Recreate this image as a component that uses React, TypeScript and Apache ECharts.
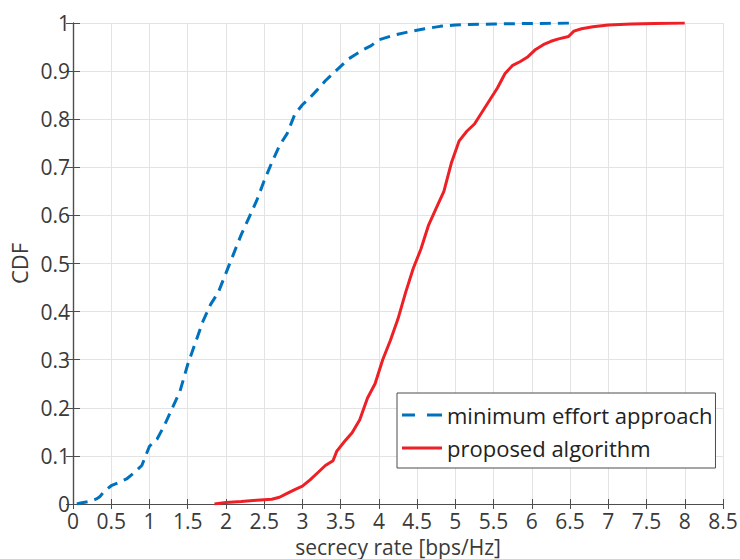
import React, { useEffect, useRef } from "react";
import * as echarts from "echarts";

const xTicks = [0, 0.5, 1, 1.5, 2, 2.5, 3, 3.5, 4, 4.5, 5, 5.5, 6, 6.5, 7, 7.5, 8, 8.5];
const yTicks = [0, 0.1, 0.2, 0.3, 0.4, 0.5, 0.6, 0.7, 0.8, 0.9, 1];

const seriesNames = ["minimum effort approach", "proposed algorithm"];

const minEffortX = [0.05, 0.1, 0.2, 0.3, 0.35, 0.4, 0.5, 0.6, 0.7, 0.8, 0.9, 0.95, 1.0, 1.1, 1.2, 1.3, 1.4, 1.5, 1.6, 1.7, 1.8, 1.9, 2.0, 2.1, 2.2, 2.3, 2.4, 2.5, 2.6, 2.7, 2.8, 2.9, 3.0, 3.1, 3.2, 3.3, 3.4, 3.5, 3.6, 3.7, 3.8, 3.9, 4.0, 4.2, 4.4, 4.6, 4.8, 5.0, 5.5, 6.0, 6.5];
const minEffortY = [0, 0.002, 0.005, 0.01, 0.015, 0.025, 0.038, 0.045, 0.052, 0.065, 0.08, 0.1, 0.12, 0.135, 0.165, 0.2, 0.235, 0.29, 0.335, 0.38, 0.415, 0.44, 0.48, 0.52, 0.56, 0.595, 0.63, 0.672, 0.71, 0.745, 0.77, 0.81, 0.83, 0.845, 0.862, 0.88, 0.895, 0.91, 0.925, 0.935, 0.945, 0.953, 0.965, 0.975, 0.982, 0.988, 0.993, 0.996, 0.998, 0.999, 1.0];

const proposedX = [1.85, 2.0, 2.2, 2.4, 2.6, 2.7, 2.8, 2.9, 3.0, 3.1, 3.2, 3.3, 3.4, 3.45, 3.55, 3.65, 3.75, 3.85, 3.95, 4.05, 4.15, 4.25, 4.35, 4.45, 4.55, 4.65, 4.75, 4.85, 4.95, 5.05, 5.15, 5.25, 5.35, 5.45, 5.55, 5.65, 5.75, 5.85, 5.95, 6.05, 6.15, 6.25, 6.35, 6.48, 6.55, 6.65, 6.8, 7.0, 7.3, 7.6, 8.0];
const proposedY = [0, 0.003, 0.005, 0.008, 0.01, 0.014, 0.022, 0.03, 0.037, 0.05, 0.065, 0.08, 0.09, 0.11, 0.13, 0.148, 0.175, 0.22, 0.25, 0.3, 0.34, 0.385, 0.44, 0.49, 0.53, 0.58, 0.615, 0.65, 0.71, 0.755, 0.775, 0.79, 0.815, 0.84, 0.865, 0.895, 0.912, 0.92, 0.93, 0.945, 0.955, 0.962, 0.967, 0.972, 0.983, 0.988, 0.992, 0.996, 0.998, 0.999, 1.0];

const FONT = "'Open Sans', 'Noto Sans', sans-serif";
const AXIS_COLOR = "#4d4d4d";
const TEXT_COLOR = "#3a3a3a";
const BLUE = "#0072BD";
const RED = "#EE2026";

export default function App() {
  const ref = useRef<HTMLDivElement>(null);
  useEffect(() => {
    if (!ref.current) return;
    const chart = echarts.init(ref.current, null, { renderer: "svg" });
    const pair = (xs: number[], ys: number[]) => xs.map((x, i) => [x, ys[i]]);
    const baseAxisLine = { show: true, lineStyle: { color: AXIS_COLOR, width: 1.2 } };
    chart.setOption({
      animation: false,
      backgroundColor: "#ffffff",
      textStyle: { fontFamily: FONT },
      grid: { left: 73, top: 23, right: 17, bottom: 55, containLabel: false, outerBoundsMode: "none" },
      legend: {
        orient: "vertical",
        left: 397,
        top: 393,
        data: [
          { name: seriesNames[0], icon: "path://M0,0h13v3h-13zM25,0h15v3h-15z", itemStyle: { color: BLUE } },
          { name: seriesNames[1], icon: "rect", itemStyle: { color: RED } },
        ],
        backgroundColor: "#ffffff",
        borderColor: AXIS_COLOR,
        borderWidth: 1,
        borderRadius: 0,
        padding: [11, 3, 9, 5],
        itemWidth: 40,
        itemHeight: 3,
        itemGap: 11,
        textStyle: { fontSize: 22, color: "#222", fontFamily: FONT },
      },
      xAxis: [
        {
          type: "value",
          min: 0,
          max: 8.5,
          interval: 0.5,
          name: "secrecy rate [bps/Hz]",
          nameLocation: "middle",
          nameGap: 29,
          nameTextStyle: { fontSize: 21, lineHeight: 21, color: TEXT_COLOR, fontFamily: FONT },
          axisLine: baseAxisLine,
          axisTick: { show: true, inside: true, length: 5, lineStyle: { color: AXIS_COLOR } },
          axisLabel: { fontSize: 21, lineHeight: 16, color: TEXT_COLOR, margin: 9, fontFamily: FONT, formatter: (v: number) => String(v) },
          splitLine: { show: true, lineStyle: { color: "#e3e3e3", width: 1 } },
        },
        {
          type: "value",
          position: "top",
          min: 0,
          max: 8.5,
          interval: 0.5,
          axisLine: baseAxisLine,
          axisTick: { show: true, inside: true, length: 5, lineStyle: { color: AXIS_COLOR } },
          axisLabel: { show: false },
          splitLine: { show: false },
        },
      ],
      yAxis: [
        {
          type: "value",
          min: 0,
          max: 1,
          interval: 0.1,
          name: "CDF",
          nameLocation: "middle",
          nameGap: 37,
          nameTextStyle: { fontSize: 22, color: TEXT_COLOR, fontFamily: FONT },
          axisLine: baseAxisLine,
          axisTick: { show: true, inside: true, length: 7, lineStyle: { color: AXIS_COLOR } },
          axisLabel: { fontSize: 21, lineHeight: 14, color: TEXT_COLOR, margin: 3, fontFamily: FONT, formatter: (v: number) => String(Math.round(v * 10) / 10) },
          splitLine: { show: true, lineStyle: { color: "#e3e3e3", width: 1 } },
        },
        {
          type: "value",
          position: "right",
          min: 0,
          max: 1,
          interval: 0.1,
          axisLine: baseAxisLine,
          axisTick: { show: true, inside: true, length: 7, lineStyle: { color: AXIS_COLOR } },
          axisLabel: { show: false },
          splitLine: { show: false },
        },
      ],
      series: [
        {
          name: seriesNames[0],
          type: "line",
          xAxisIndex: 0,
          yAxisIndex: 0,
          data: pair(minEffortX, minEffortY),
          showSymbol: false,
          symbol: "none",
          lineStyle: { color: BLUE, width: 3, type: [11, 7] },
          itemStyle: { color: BLUE },
        },
        {
          name: seriesNames[1],
          type: "line",
          xAxisIndex: 0,
          yAxisIndex: 0,
          data: pair(proposedX, proposedY),
          showSymbol: false,
          symbol: "none",
          lineStyle: { color: RED, width: 3 },
          itemStyle: { color: RED },
        },
      ],
    });
    return () => chart.dispose();
  }, []);
  return <div ref={ref} style={{ width: 740, height: 559, position: "absolute", left: 0, top: 0 }} />;
}
